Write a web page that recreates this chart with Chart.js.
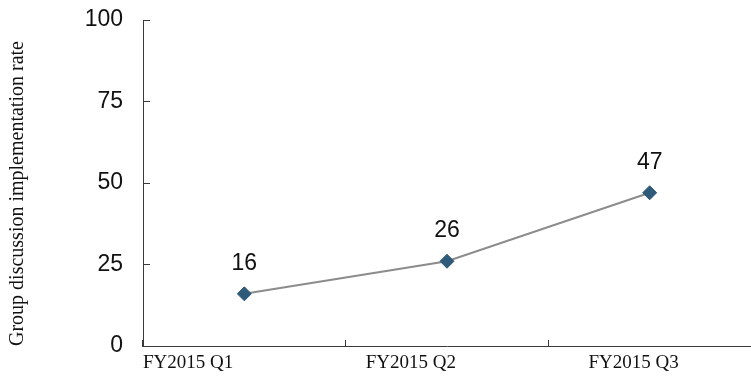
<!DOCTYPE html>
<html>
<head>
<meta charset="utf-8">
<script src="https://cdn.jsdelivr.net/npm/chart.js@4"></script>
<style>
  html, body { margin: 0; padding: 0; background: #ffffff; }
  #wrap { width: 751px; height: 378px; position: relative; }
</style>
</head>
<body>
<div id="wrap"><canvas id="c"></canvas></div>
<script>
// Quarterly categories and the implementation rate for each
const quarters = ['FY2015 Q1', 'FY2015 Q2', 'FY2015 Q3'];
const rates = [16, 26, 47];
const yTicks = [0, 25, 50, 75, 100];
const yTitle = 'Group discussion implementation rate';

const axisColor = '#3a3a3a';
const textColor = '#111111';

// Writes each point's value above its marker
const valueLabels = {
  id: 'valueLabels',
  afterDatasetsDraw(chart) {
    const ctx = chart.ctx;
    const meta = chart.getDatasetMeta(0);
    ctx.save();
    ctx.font = '23px "Liberation Sans", Arial, sans-serif';
    ctx.fillStyle = textColor;
    ctx.textAlign = 'center';
    ctx.textBaseline = 'alphabetic';
    meta.data.forEach((pt, i) => {
      ctx.fillText(String(chart.data.datasets[0].data[i]), pt.x, pt.y - 24);
    });
    ctx.restore();
  }
};

new Chart(document.getElementById('c'), {
  type: 'line',
  data: {
    labels: quarters,
    datasets: [{
      data: rates,
      borderColor: '#8c8c8c',
      borderWidth: 2,
      pointStyle: 'rectRot',
      pointRadius: 7,
      pointHoverRadius: 7,
      pointBackgroundColor: '#2f5a79',
      pointBorderColor: '#2f5a79',
      pointBorderWidth: 1,
      tension: 0,
      clip: false
    }]
  },
  options: {
    responsive: true,
    maintainAspectRatio: false,
    animation: false,
    events: [],
    layout: { autoPadding: false, padding: { top: 20, right: -2, bottom: 6, left: 0 } },
    plugins: {
      legend: { display: false },
      tooltip: { enabled: false },
      title: { display: false }
    },
    scales: {
      x: {
        type: 'category',
        position: 'bottom',
        offset: true,
        border: { display: true, color: axisColor, width: 1 },
        grid: {
          offset: true,
          drawOnChartArea: false,
          drawTicks: true,
          tickLength: -6,
          color: axisColor,
          lineWidth: 1
        },
        ticks: { display: false },
        afterFit(scale) { scale.height = 0; }
      },
      x2: {
        type: 'linear',
        position: 'bottom',
        min: 0,
        max: 2.73,
        grid: { display: false, drawTicks: false },
        border: { display: false },
        afterBuildTicks(scale) {
          scale.ticks = quarters.map((q, i) => ({ value: i }));
        },
        ticks: {
          align: 'start',
          padding: 6,
          maxRotation: 0,
          autoSkip: false,
          color: textColor,
          font: { family: '"Liberation Serif", "Times New Roman", serif', size: 19 },
          callback: (v) => quarters[v]
        },
        afterFit(scale) { scale.height = 26; }
      },
      y: {
        min: 0,
        max: 100,
        border: { display: true, color: axisColor, width: 1 },
        grid: {
          drawOnChartArea: false,
          drawTicks: true,
          tickLength: -7,
          color: axisColor,
          lineWidth: 1
        },
        afterBuildTicks(scale) {
          scale.ticks = yTicks.map(v => ({ value: v }));
        },
        ticks: {
          padding: 27,
          color: textColor,
          font: { family: '"Liberation Sans", Arial, sans-serif', size: 23 }
        },
        title: {
          display: true,
          text: yTitle,
          align: 'start',
          color: textColor,
          padding: { top: 6, bottom: 0 },
          font: { family: '"Liberation Serif", "Times New Roman", serif', size: 20 }
        },
        afterFit(scale) {
          scale.width = 143;
          scale.paddingTop = 0;
          scale.paddingBottom = 0;
        }
      }
    }
  },
  plugins: [valueLabels]
});
</script>
</body>
</html>
